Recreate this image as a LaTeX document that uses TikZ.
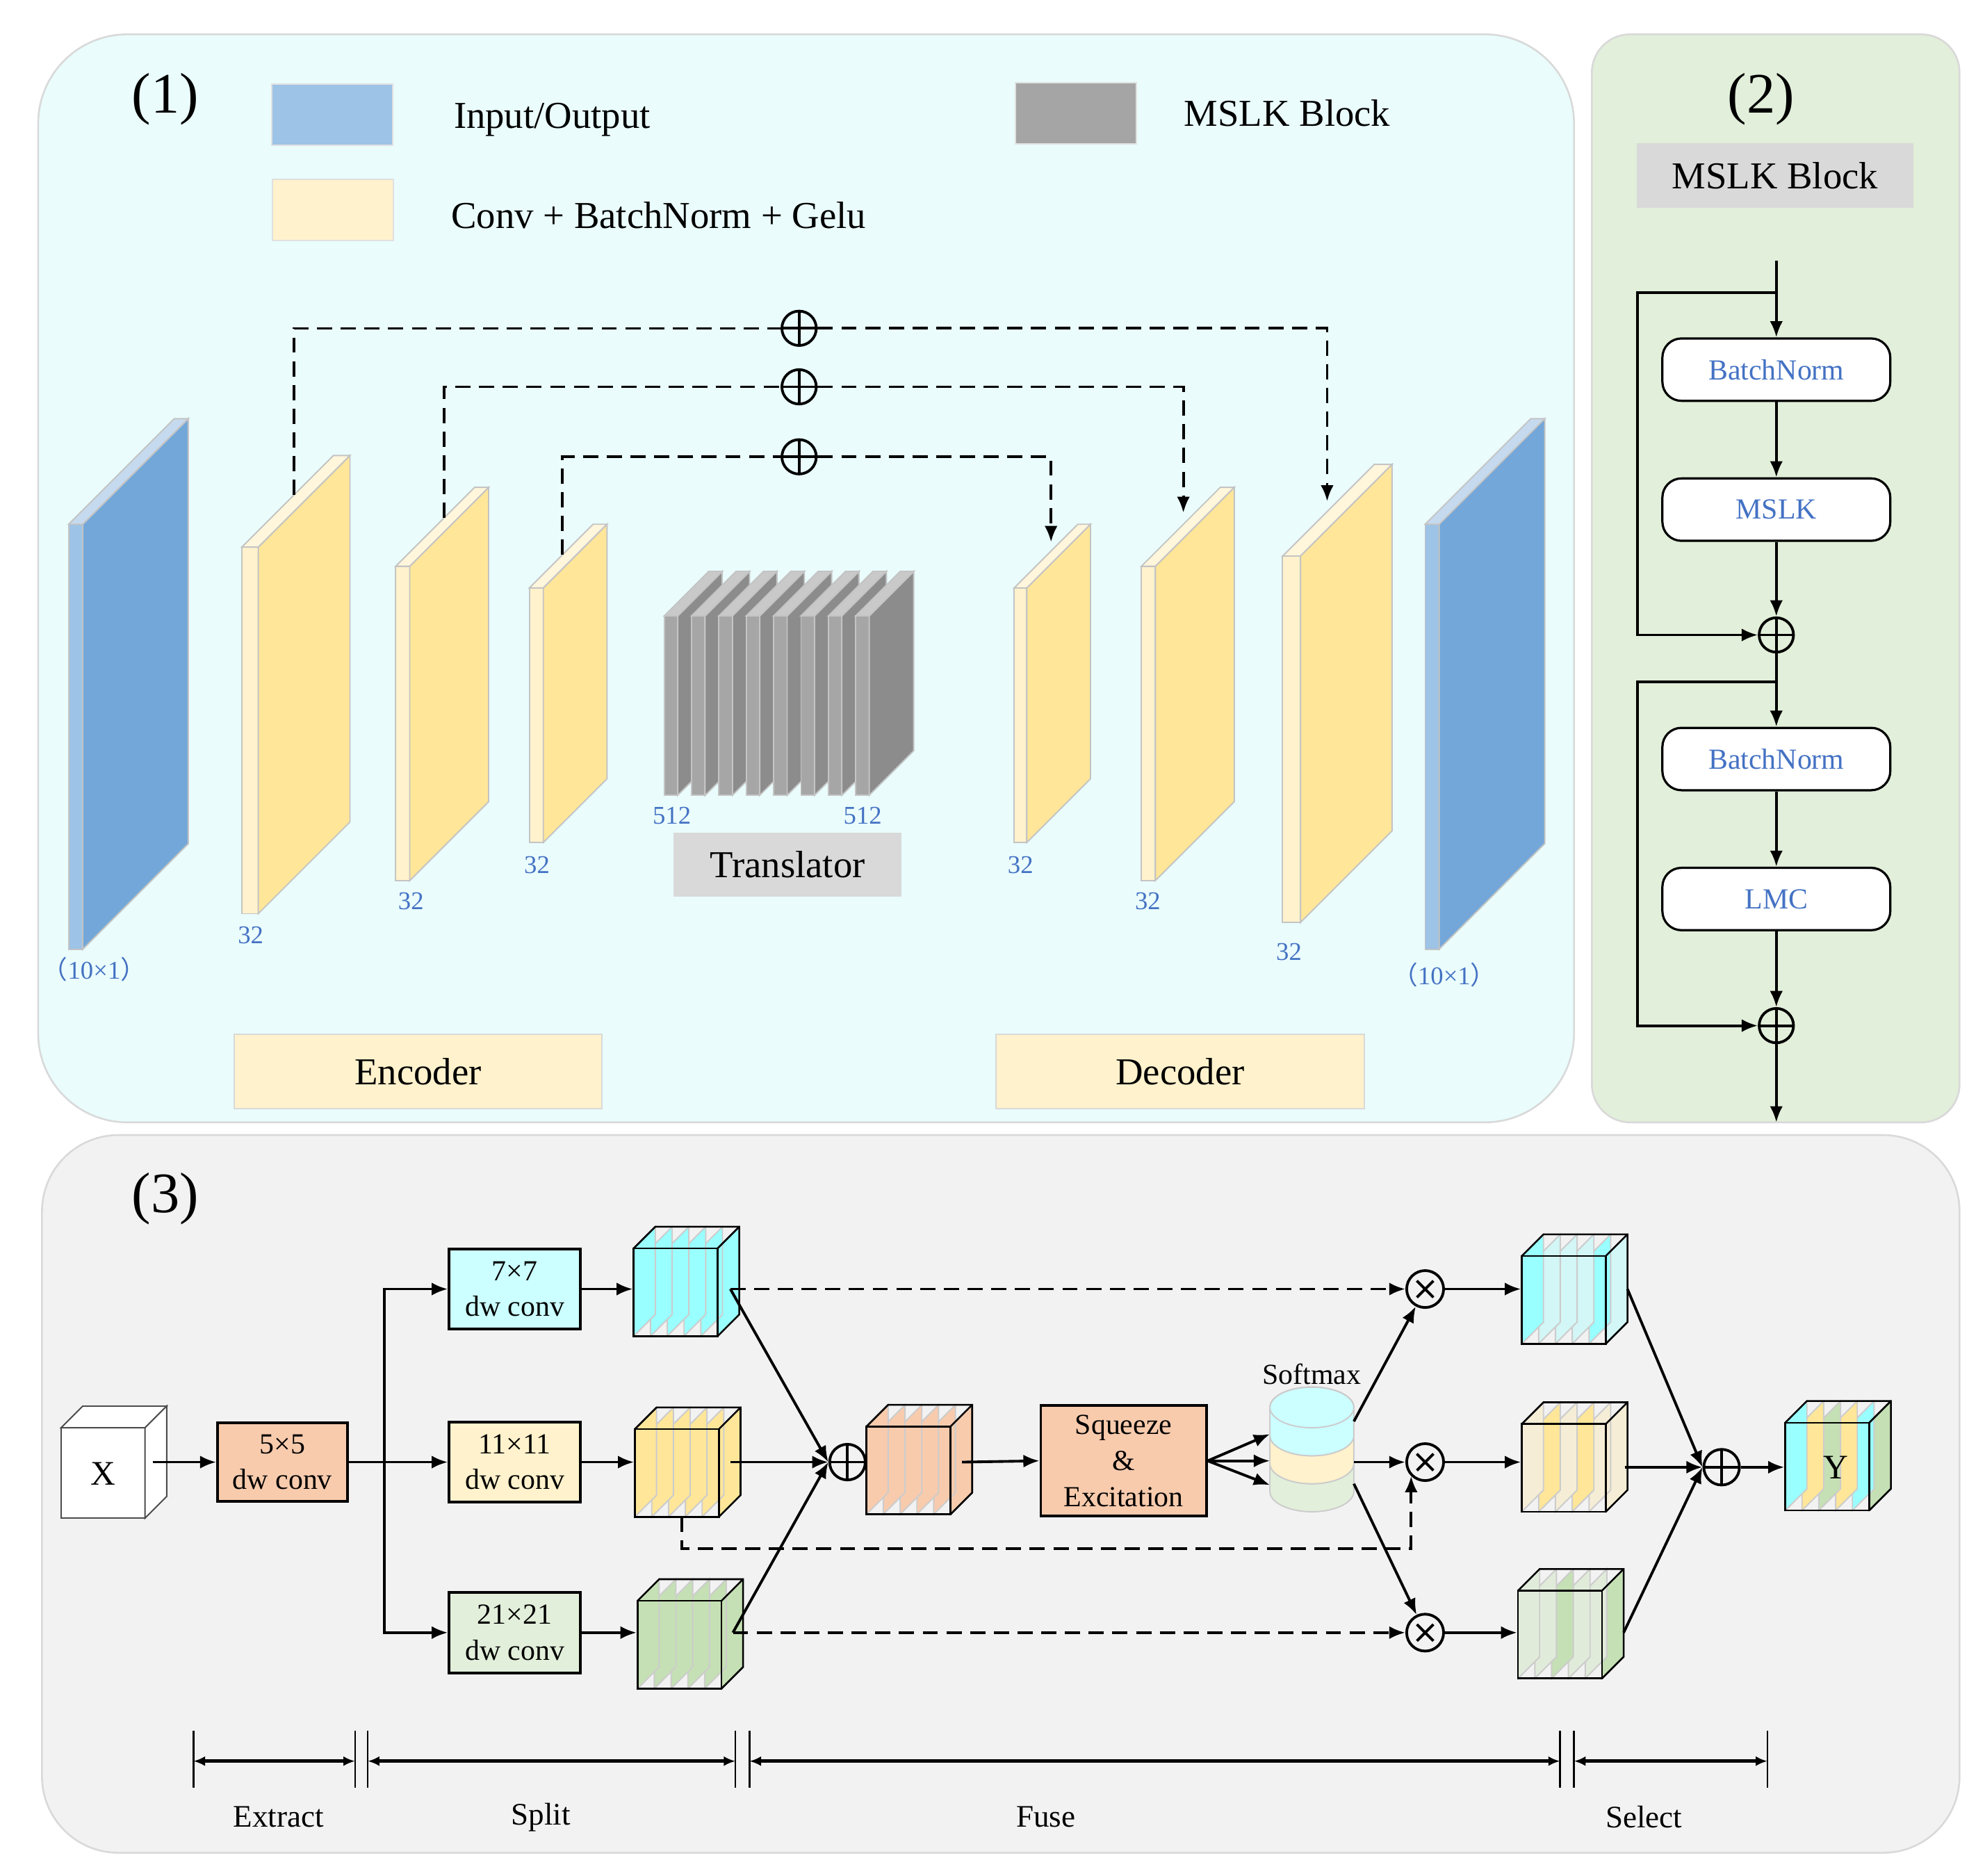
\documentclass[tikz,border=0pt]{standalone}
\usepackage{fontspec}
\setmainfont{Liberation Serif}
\newfontfamily\cjk{Noto Sans CJK SC}
\usetikzlibrary{arrows.meta}

\definecolor{bgone}{HTML}{EAFCFC}
\definecolor{bgtwo}{HTML}{E2EFDA}
\definecolor{bgthree}{HTML}{F2F2F2}
\definecolor{iofront}{HTML}{9DC3E6}
\definecolor{ioside}{HTML}{73A7D9}
\definecolor{iotop}{HTML}{C6DAEF}
\definecolor{convfront}{HTML}{FFF2CC}
\definecolor{convside}{HTML}{FFE699}
\definecolor{convtop}{HTML}{FFF6DC}
\definecolor{mslkfront}{HTML}{A6A6A6}
\definecolor{mslkside}{HTML}{8C8C8C}
\definecolor{mslktop}{HTML}{C9C9C9}
\definecolor{slabedge}{HTML}{C4C4C4}
\definecolor{labblue}{HTML}{4472C4}
\definecolor{graybox}{HTML}{D9D9D9}
\definecolor{legendgray}{HTML}{A5A5A5}
\definecolor{kcyan}{HTML}{CCFFFF}
\definecolor{kyellow}{HTML}{FFF2CC}
\definecolor{kgreen}{HTML}{E2EFDA}
\definecolor{korange}{HTML}{F8CBAD}
\definecolor{scyan}{HTML}{99FFFF}
\definecolor{syellow}{HTML}{FFE699}
\definecolor{sgreen}{HTML}{C5E0B4}
\definecolor{sorange}{HTML}{F8CBAD}
\definecolor{pcyan}{HTML}{D3F6F6}
\definecolor{pyellow}{HTML}{F6EDD6}
\definecolor{pgreen}{HTML}{E1EBDA}

% one plate: front x, front width, top y, bottom y, depth, front/side/top colour
\newcommand{\slab}[8]{%
  \fill[#6,draw=slabedge,line width=0.3pt] (#1,#3) rectangle (#1+#2,#4);
  \fill[#7,draw=slabedge,line width=0.3pt] (#1+#2,#3) -- ++(#5,-#5) -- ++(0,#4-#3) -- (#1+#2,#4) -- cycle;
  \fill[#8,draw=slabedge,line width=0.3pt] (#1,#3) -- ++(#5,-#5) -- ++(#2,0) -- (#1+#2,#3) -- cycle;
}
% cube of six sheets: front left x, front top y, sheet colours left to right
\newcommand{\sheetcube}[8]{%
  \foreach \i/\c in {5/#8,4/#7,3/#6,2/#5,1/#4,0/#3}
    \filldraw[sheetedge,fill=\c] (#1+13.2*\i,#2) -- ++(17,-17) -- ++(0,69) -- (#1+13.2*\i,#2+69) -- cycle;
  \draw[cubeedge] (#1,#2) rectangle ++(66,69);
  \draw[cubeedge] (#1,#2) -- ++(17,-17) -- ++(66,0) -- ++(0,69) -- ++(-17,17);
  \draw[cubeedge] (#1+66,#2) -- ++(17,-17);
}

\begin{document}
\begin{tikzpicture}[x=0.01cm,y=-0.01cm,
  panel/.style={draw=black!15,line width=0.4pt},
  numtag/.style={font=\fontsize{12.8}{14}\selectfont},
  legendbox/.style={draw=black!12,line width=0.3pt,minimum width=0.95cm,minimum height=0.48cm,inner sep=0pt},
  legendtext/.style={anchor=west,inner sep=0pt,font=\fontsize{8.5}{10}\selectfont},
  namebox/.style={draw=black!15,line width=0.3pt,inner sep=0pt,font=\fontsize{8.5}{10}\selectfont},
  dimlab/.style={text=labblue,inner sep=0pt,font=\fontsize{5.7}{6}\selectfont},
  skipline/.style={line width=0.55pt,dash pattern=on 3.4pt off 1.9pt},
  arr/.style={line width=0.6pt,-{Latex[length=3.6pt,width=2.9pt]}},
  sumnode/.style={circle,draw,line width=0.6pt,inner sep=0pt,minimum size=#1,
    path picture={\draw[line width=0.6pt] (path picture bounding box.north) -- (path picture bounding box.south)
      (path picture bounding box.west) -- (path picture bounding box.east);}},
  sumnode/.default=0.27cm,
  prodnode/.style={circle,draw,line width=0.6pt,inner sep=0pt,minimum size=0.29cm,
    path picture={\draw[line width=0.6pt] (path picture bounding box.center) +(-0.065cm,-0.065cm) -- +(0.065cm,0.065cm)
      +(-0.065cm,0.065cm) -- +(0.065cm,-0.065cm);}},
  block/.style={draw,line width=0.5pt,fill=white,rounded corners=0.15cm,minimum width=1.79cm,minimum height=0.49cm,
    inner sep=0pt,text=labblue,font=\fontsize{6.5}{8}\selectfont},
  conv/.style={draw,line width=0.6pt,minimum width=1.03cm,minimum height=0.63cm,inner sep=0pt,align=center,
    font=\fontsize{6.5}{8}\selectfont},
  boxtext/.style={inner sep=0pt,font=\fontsize{6.5}{8}\selectfont},
  sheetedge/.style={draw=black!20,line width=0.3pt},
  cubeedge/.style={draw=black,line width=0.4pt},
  cubenode/.style={minimum width=0.66cm,minimum height=0.69cm,inner sep=0pt},
  xface/.style={fill=white,draw=black!70,line width=0.3pt},
  cyl/.style={draw=black!20,line width=0.3pt},
  tickline/.style={line width=0.4pt},
  spanline/.style={line width=0.75pt,{Latex[length=2.6pt,width=2.2pt]}-{Latex[length=2.6pt,width=2.2pt]}},
  steplabel/.style={inner sep=0pt,font=\fontsize{7}{8}\selectfont}]
\useasboundingbox (0,0) rectangle (1560,1474);

% panels
\filldraw[panel,fill=bgone,rounded corners=0.7cm] (30,27) rectangle (1237,882);
\filldraw[panel,fill=bgtwo,rounded corners=0.3cm] (1251,27) rectangle (1540,882);
\filldraw[panel,fill=bgthree,rounded corners=0.6cm] (33,892) rectangle (1540,1456);

% (1) encoder / decoder
\node[numtag] at (130,78) {(1)};
\node[legendbox,fill=iofront] (lio) at (261,90) {};
\node[legendtext] at (356,94) {Input/Output};
\node[legendbox,fill=convfront] (lconv) at (261.5,165) {};
\node[legendtext] at (354,169) {Conv + BatchNorm + Gelu};
\node[legendbox,fill=legendgray] (lmslk) at (845.5,89) {};
\node[legendtext] at (930,89) {MSLK Block};

\foreach \x/\w/\yt/\yb/\d/\cf/\cs/\ct in {
    54/11/412/746/83/iofront/ioside/iotop,
    190/13/430/718/72/convfront/convside/convtop,
    311/11/445/692/62/convfront/convside/convtop,
    416/11/462/662/50/convfront/convside/convtop,
    797/10/462/662/50/convfront/convside/convtop,
    897/11/445/692/62/convfront/convside/convtop,
    1008/14/437/725/72/convfront/convside/convtop,
    1120/11/412/746/83/iofront/ioside/iotop}
  \slab{\x}{\w}{\yt}{\yb}{\d}{\cf}{\cs}{\ct};
\foreach \i in {0,...,7}
  \slab{522+21.5*\i}{10.6}{484}{625}{35}{mslkfront}{mslkside}{mslktop};

\node[dimlab] at (74,762) {{\cjk （}10×1{\cjk ）}};
\node[dimlab] at (197,735) {32};
\node[dimlab] at (323,708) {32};
\node[dimlab] at (422,680) {32};
\node[dimlab] at (528,641) {512};
\node[dimlab] at (678,641) {512};
\node[dimlab] at (802,680) {32};
\node[dimlab] at (902,708) {32};
\node[dimlab] at (1013,748) {32};
\node[dimlab] at (1135,766) {{\cjk （}10×1{\cjk ）}};

\node[namebox,fill=graybox,minimum width=1.78cm,minimum height=0.49cm] (trans) at (619,679.5) {Translator};
\node[namebox,fill=convfront,minimum width=2.89cm,minimum height=0.58cm] (enc) at (328.5,842) {Encoder};
\node[namebox,fill=convfront,minimum width=2.89cm,minimum height=0.58cm] (dec) at (927.5,842) {Decoder};

% skip connections
\coordinate (e1) at (231,389);
\coordinate (e2) at (349,407);
\coordinate (e3) at (442,436);
\coordinate (d1) at (826,426);
\coordinate (d2) at (930,403);
\coordinate (d3) at (1043,394);
\node[sumnode] (s1) at (628,258) {};
\node[sumnode] (s2) at (628,304) {};
\node[sumnode] (s3) at (628,359) {};
\draw[skipline] (e1) |- (s1.west);
\draw[skipline,arr] (s1.east) -| (d3);
\draw[skipline] (e2) |- (s2.west);
\draw[skipline,arr] (s2.east) -| (d2);
\draw[skipline] (e3) |- (s3.west);
\draw[skipline,arr] (s3.east) -| (d1);

% (2) MSLK block
\node[numtag] at (1384,78) {(2)};
\node[namebox,fill=graybox,minimum width=2.16cm,minimum height=0.5cm] (mbtitle) at (1395,138) {MSLK Block};
\coordinate (top2) at (1396,205);
\coordinate (k1) at (1396,230);
\node[block] (bn1) at (1396,290.5) {BatchNorm};
\node[block] (ms) at (1396,400.5) {MSLK};
\node[sumnode] (p1) at (1396,499) {};
\coordinate (k2) at (1396,536);
\node[block] (bn2) at (1396,596.5) {BatchNorm};
\node[block] (lmc) at (1396,706.5) {LMC};
\node[sumnode] (p2) at (1396,806) {};
\coordinate (bot2) at (1396,882);
\draw[arr] (top2) -- (bn1);
\draw[arr] (bn1) -- (ms);
\draw[arr] (ms) -- (p1);
\draw[arr] (p1) -- (bn2);
\draw[arr] (bn2) -- (lmc);
\draw[arr] (lmc) -- (p2);
\draw[arr] (p2) -- (bot2);
\draw[arr] (k1) -- ++(-109,0) |- (p1.west);
\draw[arr] (k2) -- ++(-109,0) |- (p2.west);

% (3) MSLK
\node[numtag] at (130,942) {(3)};

% input cube
\filldraw[xface] (48,1122) rectangle (114,1193);
\filldraw[xface] (48,1122) -- ++(17,-17) -- ++(66,0) -- ++(-17,17) -- cycle;
\filldraw[xface] (114,1122) -- ++(17,-17) -- ++(0,71) -- ++(-17,17) -- cycle;
\node[font=\fontsize{7.7}{9}\selectfont] (xc) at (81,1158) {X};
\coordinate (xc-o) at (120,1149);

\node[conv,fill=korange,minimum width=1.02cm,minimum height=0.62cm] (b5) at (222,1149) {5×5\\dw conv};
\coordinate (br) at (302,1149);
\node[conv,fill=kcyan] (b7) at (404.5,1013) {7×7\\dw conv};
\node[conv,fill=kyellow] (b11) at (404.5,1149) {11×11\\dw conv};
\node[conv,fill=kgreen] (b21) at (404.5,1283) {21×21\\dw conv};
\draw[arr] (xc-o) -- (b5.west);
\draw[line width=0.6pt] (b5.east) -- (br);
\draw[arr] (br) |- (b7.west);
\draw[arr] (br) -- (b11.west);
\draw[arr] (br) |- (b21.west);

% split cubes
\sheetcube{498}{981}{scyan}{scyan}{scyan}{scyan}{scyan}{scyan}
\node[cubenode] (c7) at (531,1015.5) {};
\coordinate (c7-o) at (574,1013);
\sheetcube{499}{1123}{syellow}{syellow}{syellow}{syellow}{syellow}{syellow}
\node[cubenode] (c11) at (532,1157.5) {};
\coordinate (c11-o) at (574,1149);
\coordinate (c11-b) at (536,1192);
\sheetcube{501}{1258}{sgreen}{sgreen}{sgreen}{sgreen}{sgreen}{sgreen}
\node[cubenode] (c21) at (534,1292.5) {};
\coordinate (c21-o) at (576,1283);
\draw[arr] (b7.east) -- (b7.east -| c7.west);
\draw[arr] (b11.east) -- (b11.east -| c11.west);
\draw[arr] (b21.east) -- (b21.east -| c21.west);

% fuse
\node[sumnode=0.28cm] (fz) at (666,1149) {};
\draw[arr] (c7-o) -- (fz.west);
\draw[arr] (c11-o) -- (fz.west);
\draw[arr] (c21-o) -- (fz.west);
\sheetcube{681}{1121}{sorange}{sorange}{sorange}{sorange}{sorange}{sorange}
\coordinate (oc-o) at (756,1149);
\node[conv,fill=korange,minimum width=1.3cm,minimum height=0.87cm,font=\fontsize{6.5}{8.1}\selectfont] (se) at (883,1148) {Squeeze\\\&\\Excitation};
\draw[arr] (oc-o) -- (se.west);

% softmax stack
\filldraw[cyl,fill=kgreen] (998,1150) -- (998,1172) arc[start angle=180,end angle=0,x radius=33,y radius=16]
  -- (1064,1150) arc[start angle=0,end angle=180,x radius=33,y radius=16] -- cycle;
\filldraw[cyl,fill=kyellow] (998,1128) -- (998,1150) arc[start angle=180,end angle=0,x radius=33,y radius=16]
  -- (1064,1128) arc[start angle=0,end angle=180,x radius=33,y radius=16] -- cycle;
\filldraw[cyl,fill=kcyan] (998,1106) -- (998,1128) arc[start angle=180,end angle=0,x radius=33,y radius=16]
  -- (1064,1106) arc[start angle=0,end angle=-180,x radius=33,y radius=16] -- cycle;
\draw[cyl] (1031,1106) ellipse[x radius=33,y radius=16];
\node[boxtext] (smax) at (1031,1080) {Softmax};
\coordinate (cy1) at (998,1127);
\coordinate (cy2) at (998,1148);
\coordinate (cy3) at (998,1167);
\draw[arr] (se.east) -- (cy1);
\draw[arr] (se.east) -- (cy2);
\draw[arr] (se.east) -- (cy3);

% select
\node[prodnode] (m1) at (1120,1013) {};
\node[prodnode] (m2) at (1120,1149) {};
\node[prodnode] (m3) at (1120,1283) {};
\coordinate (co1) at (1064,1117);
\coordinate (co2) at (1064,1149);
\coordinate (co3) at (1064,1166);
\draw[arr] (co1) -- (m1);
\draw[arr] (co2) -- (m2);
\draw[arr] (co3) -- (m3);
\draw[skipline,arr] (c7-o) -- (m1.west);
\draw[skipline,arr] (c21-o) -- (m3.west);
\draw[skipline,arr] (c11-b) -- ++(0,25) -| (m2.-135);

\sheetcube{1196}{987}{scyan}{pcyan}{pcyan}{pcyan}{scyan}{pcyan}
\node[cubenode] (s7) at (1229,1022) {};
\coordinate (s7-o) at (1279,1013);
\sheetcube{1196}{1119}{pyellow}{syellow}{pyellow}{syellow}{pyellow}{pyellow}
\node[cubenode] (s11) at (1229,1153.5) {};
\coordinate (s11-o) at (1277,1153);
\sheetcube{1193}{1250}{pgreen}{pgreen}{sgreen}{pgreen}{pgreen}{sgreen}
\node[cubenode] (s21) at (1226,1284.5) {};
\coordinate (s21-o) at (1276,1283);
\draw[arr] (m1) -- (m1 -| s7.west);
\draw[arr] (m2) -- (m2 -| s11.west);
\draw[arr] (m3) -- (m3 -| s21.west);

\node[sumnode=0.28cm] (fp) at (1353,1153) {};
\draw[arr] (s7-o) -- (fp.west);
\draw[arr] (s11-o) -- (fp.west);
\draw[arr] (s21-o) -- (fp.west);
\sheetcube{1403}{1118}{scyan}{syellow}{sgreen}{syellow}{scyan}{sgreen}
\node[cubenode] (yc) at (1436,1152.5) {};
\node[font=\fontsize{7.7}{9}\selectfont] at (1443,1153) {Y};
\draw[arr] (fp) -- (fp -| yc.west);

% stages
\foreach \x [count=\i] in {152,279,289,578,589,1226,1237,1389}
  \coordinate (t\i) at (\x,1384);
\foreach \i in {1,...,8}
  \draw[tickline] (t\i) ++(0,-24) -- ++(0,45);
\draw[spanline] (t1) -- (t2);
\draw[spanline] (t3) -- (t4);
\draw[spanline] (t5) -- (t6);
\draw[spanline] (t7) -- (t8);
\node[steplabel] at (219,1428) {Extract};
\node[steplabel] at (425,1428) {Split};
\node[steplabel] at (822,1428) {Fuse};
\node[steplabel] at (1292,1428) {Select};
\end{tikzpicture}
\end{document}
